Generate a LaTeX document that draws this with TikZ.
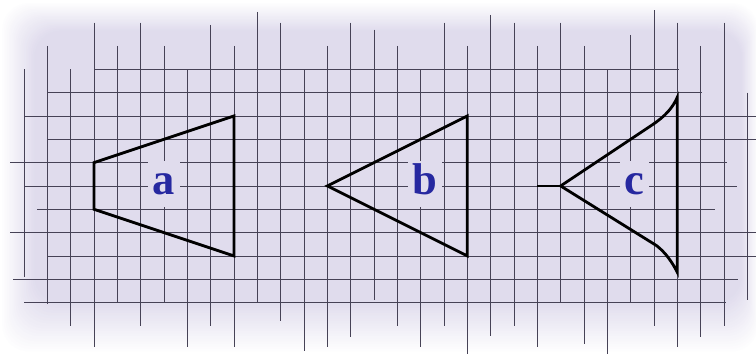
\documentclass[tikz,border=0pt]{standalone}
\usepackage{fontspec}
\setmainfont{Liberation Serif}
\usepackage{xcolor}
\usepackage{tikz}
\usetikzlibrary{positioning}
\definecolor{gpaper}{RGB}{224,220,237}
\definecolor{gline}{RGB}{70,66,86}
\definecolor{gblue}{RGB}{38,40,160}

\begin{document}
\begin{tikzpicture}[x=0.7cm, y=0.7cm,
      gridline/.style={line width=0.7pt, draw=gline},
      figline/.style={line width=2.4pt, line join=miter, draw=black},
      lbl/.style={font=\fontsize{38}{40}\selectfont\bfseries, text=gblue, fill=gpaper,
        anchor=base, text height=25pt, text depth=6pt, inner sep=4pt}
    ]
    \useasboundingbox (-1.029,-7.2) rectangle (31.374,7.97);
    \fill[white] (-1.029,-7.2) rectangle (31.374,7.97);

    % paper, soft edges
    \foreach \i in {1,...,20}{
      \pgfmathsetmacro{\t}{\i/20}
      \pgfmathtruncatemacro{\pc}{\i*5}
      \fill[gpaper!\pc, rounded corners=0.8cm]
        ({-1.0+1.45*\t},{-7.2+2.2*\t}) rectangle ({31.5-0.75*\t},{7.9-1.25*\t});
    }

    % grid
    \foreach \y/\a/\b in {5/3/28.07, 4/1/29.06, 3/0/31.37, 2/1/31.37, 1/-0.6/30.13,
        0/0/30.56, -1/0.56/29.6, -2/-0.6/31.37, -3/1/31.37, -4/-0.47/30.6, -5/0/30.09}
      \draw[gridline] (\a,\y) -- (\b,\y);
    \foreach \x/\a/\b in {0/5/-3.9, 1/6/-5.06, 2/5/-6, 3/7/-6.9, 4/6/-5, 5/7/-6,
        6/6/-5, 7/5/-6.9, 8/6.9/-6, 9/6/-6.9, 10/7.46/-5, 11/7/-5.8, 12/5/-7.07,
        13/6/-6.9, 14/7/-6.47, 15/6.7/-4.9, 16/6/-6, 17/5/-6.9, 18/7/-6, 19/6/-7.2,
        20/7.33/-6.43, 21/7/-6, 22/6/-6.9, 23/7/-5, 24/6/-6.77, 25/5/-7.2,
        26/6.47/-5, 27/7.54/-6, 28/7/-6.9, 29/6/-6.47, 30/7/-6, 31/4/-4.9}
      \draw[gridline] (\x,\a) -- (\x,\b);

    % labels
    \node[lbl] (la) at (6,-0.38) {a};
    \node[lbl] (lb) at (17.2,-0.38) {b};
    \node[lbl] (lc) at (26.15,-0.38) {c};

    % figures
    \draw[figline] (3,1) -- (9,3) -- (9,-3) -- (3,-1) -- cycle;
    \draw[figline] (13,0) -- (19,3) -- (19,-3) -- cycle;
    \draw[figline] (22,0) -- (23,0);
    \draw[figline] (23,0) -- (26.9,2.6) .. controls (27.5,3) and (27.8,3.35) .. (28,3.8)
      -- (28,-3.7) .. controls (27.8,-3.3) and (27.5,-2.85) .. (27.1,-2.55) -- cycle;
  \end{tikzpicture}
\end{document}
